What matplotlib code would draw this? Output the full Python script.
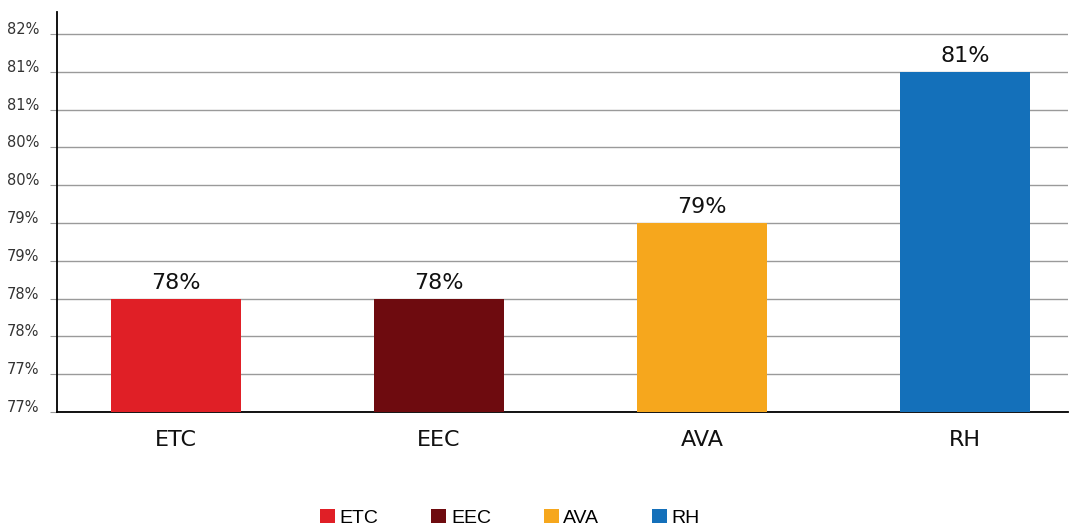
import numpy as np
import matplotlib.pyplot as plt
from matplotlib.ticker import FuncFormatter

# satisfaction rate per brand
categories = ['ETC', 'EEC', 'AVA', 'RH']
rates = [0.7825, 0.7825, 0.7925, 0.8125]
colors = ['#E01F26', '#6E0B0F', '#F6A71D', '#1470BA']

# y axis ticks, every half point
yticks = np.arange(0.7675, 0.8176, 0.005)

fig = plt.figure(figsize=(10.7, 5.3), dpi=100)
ax = fig.add_axes([57 / 1070, 1 - 412 / 530, 1011 / 1070, 400 / 530])

x = np.arange(len(categories))
bars = ax.bar(x, rates, width=0.494, color=colors, zorder=3, label=categories)

ax.set_ylim(0.7675, 0.8204)
ax.set_xlim(-0.452, 3.39)
ax.set_yticks(yticks)
ax.yaxis.set_major_formatter(FuncFormatter(lambda v, p: '%.0f%%' % (v * 100)))
ax.grid(axis='y', color='#9a9a9a', linewidth=1, zorder=0)
ax.tick_params(axis='y', length=5, color='#9a9a9a', labelsize=10.5,
               labelcolor='#333333', pad=8)
for t in ax.get_yticklabels():
    t.set_verticalalignment('baseline')

ax.set_xticks(x)
ax.set_xticklabels(categories)
ax.tick_params(axis='x', length=0, labelsize=16, pad=13, labelcolor='#111111')

for s in ['top', 'right']:
    ax.spines[s].set_visible(False)
ax.spines['left'].set_linewidth(1.3)
ax.spines['bottom'].set_linewidth(1.3)

ax.bar_label(bars, labels=['%.0f%%' % (r * 100) for r in rates],
             padding=4, fontsize=16, color='#111111')

fig.legend(handles=bars.patches, labels=categories, loc='center',
           bbox_to_anchor=(510 / 1070, 1 - 518 / 530), ncol=4, frameon=False,
           prop={'family': 'Liberation Sans', 'size': 14},
           handlelength=0.77, handleheight=0.77, handletextpad=0.25,
           columnspacing=2.7, borderpad=0, borderaxespad=0)

fig.savefig('out.png', dpi=100)
